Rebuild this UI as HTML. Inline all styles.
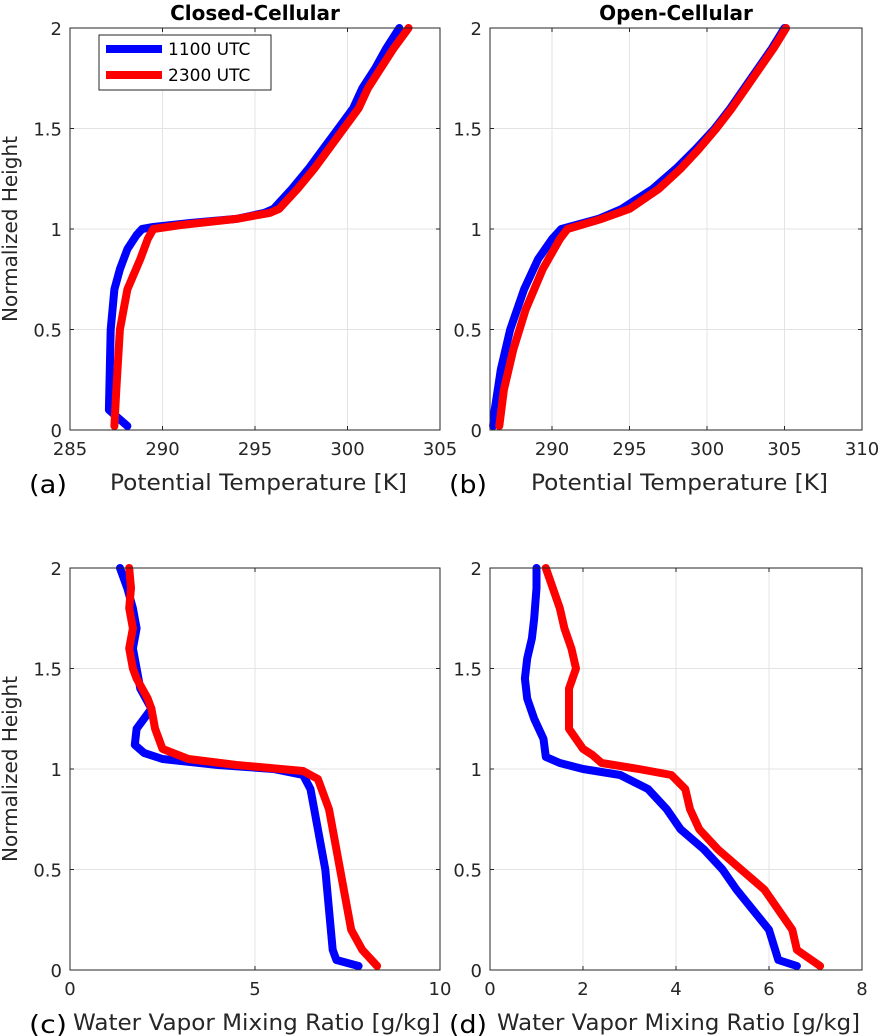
<!DOCTYPE html>
<html><head><meta charset="utf-8"><style>
html,body{margin:0;padding:0;background:#fff}
svg{display:block;font-family:"DejaVu Sans","Liberation Sans",sans-serif}
</style></head><body>
<svg id="fig" width="879" height="1036" viewBox="0 0 879 1036"></svg>
<script>
const heights_a_blue=[0.02,0.1,0.5,0.7,0.8,0.9,0.97,1.0,1.01,1.03,1.05,1.08,1.1,1.2,1.3,1.4,1.5,1.6,1.7,1.8,1.9,2.0];
const theta_a_blue=[288.1,287.1,287.2,287.4,287.7,288.1,288.6,288.9,289.5,291.5,294,295.5,296,297,297.9,298.7,299.5,300.3,300.8,301.5,302.1,302.8];
const heights_a_red=[0.02,0.2,0.5,0.7,0.85,0.95,1.0,1.02,1.05,1.08,1.1,1.2,1.3,1.4,1.5,1.6,1.7,1.8,1.9,2.0];
const theta_a_red=[287.4,287.5,287.7,288.1,288.8,289.2,289.5,291,294,295.8,296.3,297.3,298.2,299,299.8,300.6,301.1,301.8,302.5,303.3];
const heights_b_blue=[0.02,0.1,0.3,0.5,0.7,0.85,0.95,1.0,1.05,1.1,1.2,1.3,1.4,1.5,1.6,1.7,1.8,1.9,2.0];
const theta_b_blue=[286.2,286.3,286.7,287.3,288.2,289.1,290,290.6,293,294.5,296.5,298,299.3,300.5,301.5,302.4,303.3,304.2,305];
const heights_b_red=[0.02,0.2,0.4,0.6,0.8,0.95,1.0,1.05,1.1,1.2,1.3,1.4,1.5,1.6,1.7,1.8,1.9,2.0];
const theta_b_red=[286.6,286.9,287.5,288.3,289.4,290.5,291,293.2,295,296.9,298.3,299.5,300.6,301.6,302.5,303.4,304.3,305.1];
const heights_c_blue=[0.02,0.05,0.1,0.3,0.5,0.6,0.7,0.8,0.9,0.97,1.0,1.02,1.05,1.08,1.12,1.2,1.3,1.4,1.5,1.6,1.7,1.8,1.9,2.0];
const q_c_blue=[7.8,7.2,7.1,7.0,6.9,6.8,6.7,6.6,6.5,6.3,5.5,4,2.5,2.0,1.75,1.8,2.2,1.9,1.8,1.7,1.8,1.7,1.55,1.35];
const heights_c_red=[0.02,0.1,0.2,0.4,0.6,0.8,0.95,0.99,1.02,1.05,1.1,1.2,1.3,1.35,1.45,1.5,1.6,1.7,1.8,1.9,2.0];
const q_c_red=[8.3,7.9,7.6,7.4,7.2,7.0,6.7,6.3,4.5,3.2,2.5,2.3,2.2,2.1,1.8,1.7,1.6,1.7,1.6,1.65,1.6];
const heights_d_blue=[0.02,0.05,0.2,0.4,0.5,0.6,0.7,0.8,0.9,0.97,1.0,1.03,1.06,1.15,1.25,1.35,1.45,1.55,1.65,1.75,1.9,2.0];
const q_d_blue=[6.6,6.2,6.0,5.3,5.0,4.6,4.1,3.8,3.4,2.8,2.0,1.5,1.2,1.15,0.95,0.8,0.75,0.8,0.9,0.95,1.0,1.0];
const heights_d_red=[0.02,0.1,0.2,0.4,0.5,0.6,0.7,0.8,0.9,0.97,1.0,1.03,1.07,1.1,1.2,1.3,1.4,1.5,1.6,1.7,1.8,1.9,2.0];
const q_d_red=[7.1,6.6,6.5,5.9,5.4,4.9,4.5,4.3,4.2,3.9,3.2,2.4,2.2,2.0,1.7,1.7,1.7,1.85,1.75,1.6,1.5,1.35,1.2];
const yTicks=[0,0.5,1,1.5,2];
const yTickLabels=["0","0.5","1","1.5","2"];
const xTicks_a=[285,290,295,300,305];
const xTicks_b=[290,295,300,305,310];
const xTicks_c=[0,5,10];
const xTicks_d=[0,2,4,6,8];

const NS="http://www.w3.org/2000/svg";
const svg=document.getElementById('fig');
function el(tag,attrs,parent,text){const e=document.createElementNS(NS,tag);for(const k in attrs)e.setAttribute(k,attrs[k]);if(text!==undefined)e.textContent=text;(parent||svg).appendChild(e);return e;}

function panel(id,L,R,T,B,xmin,xmax,xticks,series,title,letter,xlabel,ylab,lx,lw){
  const g=el('g',{});
  
  
  const sx=v=>L+(v-xmin)/(xmax-xmin)*(R-L);
  const sy=v=>B-v/2*(B-T);
  xticks.forEach(t=>{
    const l=el('line',{x1:sx(t),x2:sx(t),y1:T,y2:B,stroke:'#e3e3e3','stroke-width':1},g);
    
    
    const tx=el('text',{x:sx(t),y:B+25,'text-anchor':'middle','font-size':18,fill:'#262626'},g,String(t));
    
    
    el('line',{x1:sx(t),x2:sx(t),y1:B,y2:B-4,stroke:'#262626'},g);
    el('line',{x1:sx(t),x2:sx(t),y1:T,y2:T+4,stroke:'#262626'},g);
  });
  yTicks.forEach((t,i)=>{
    const l=el('line',{x1:L,x2:R,y1:sy(t),y2:sy(t),stroke:'#e3e3e3','stroke-width':1},g);
    
    
    const tx=el('text',{x:L-8,y:sy(t)+7,'text-anchor':'end','font-size':18,fill:'#262626'},g,yTickLabels[i]);
    
    
    el('line',{x1:L,x2:L+4,y1:sy(t),y2:sy(t),stroke:'#262626'},g);
    el('line',{x1:R,x2:R-4,y1:sy(t),y2:sy(t),stroke:'#262626'},g);
  });
  series.forEach(s=>{
    const pts=s.h.map((h,i)=>sx(s.x[i]).toFixed(1)+','+sy(h).toFixed(1)).join(' ');
    const p=el('polyline',{points:pts,fill:'none',stroke:s.c,'stroke-width':8,'stroke-linejoin':'round','stroke-linecap':'round'},g);
    
    
  });
  const box=el('rect',{x:L,y:T,width:R-L,height:B-T,fill:'none',stroke:'#262626','stroke-width':1},g);
  
  
  if(title){const t=el('text',{x:(L+R)/2,y:T-8,'text-anchor':'middle','font-size':20,'font-weight':'bold',fill:'#000'},g,title);
    
    }
  const lt=el('text',{x:L-41,y:B+63,'font-size':25,fill:'#000',textLength:38,lengthAdjust:'spacingAndGlyphs'},g,letter);
  
  
  const xl=el('text',{x:lx,y:B+60,'font-size':22,fill:'#262626',textLength:lw,lengthAdjust:'spacingAndGlyphs'},g,xlabel);
  
  
  if(ylab){const yl=el('text',{x:0,y:0,'text-anchor':'middle','font-size':20,fill:'#262626',transform:`translate(17,${(T+B)/2}) rotate(-90)`},g,'Normalized Height');
    
    }
}
panel('a',70,440,28,430,285,305,xTicks_a,[{h:heights_a_blue,x:theta_a_blue,c:'#0000ff',n:'line-1100utc'},{h:heights_a_red,x:theta_a_red,c:'#ff0000',n:'line-2300utc'}],'Closed-Cellular','(a)','Potential Temperature [K]',true,110,297);
panel('b',490,862,28,430,286,310,xTicks_b,[{h:heights_b_blue,x:theta_b_blue,c:'#0000ff',n:'line-1100utc'},{h:heights_b_red,x:theta_b_red,c:'#ff0000',n:'line-2300utc'}],'Open-Cellular','(b)','Potential Temperature [K]',false,531,297);
panel('c',70,440,568,970,0,10,xTicks_c,[{h:heights_c_blue,x:q_c_blue,c:'#0000ff',n:'line-1100utc'},{h:heights_c_red,x:q_c_red,c:'#ff0000',n:'line-2300utc'}],'','(c)','Water Vapor Mixing Ratio [g/kg]',true,73,367);
panel('d',490,862,568,970,0,8,xTicks_d,[{h:heights_d_blue,x:q_d_blue,c:'#0000ff',n:'line-1100utc'},{h:heights_d_red,x:q_d_red,c:'#ff0000',n:'line-2300utc'}],'','(d)','Water Vapor Mixing Ratio [g/kg]',false,497,363);

const lg=el('g',{});


el('rect',{x:99,y:35,width:172,height:55,fill:'#fff',stroke:'#262626','stroke-width':1},lg);
[['#0000ff','1100 UTC',49],['#ff0000','2300 UTC',75]].forEach(d=>{
  const e=el('g',{},lg);
  
  
  el('line',{x1:106,x2:162,y1:d[2],y2:d[2],stroke:d[0],'stroke-width':8},e);
  el('text',{x:168,y:d[2]+6,'font-size':17,fill:'#000'},e,d[1]);
});
</script>
</body></html>
